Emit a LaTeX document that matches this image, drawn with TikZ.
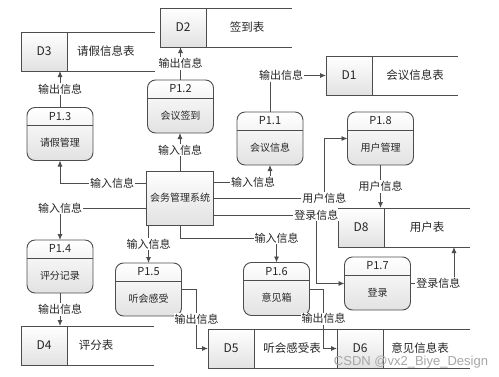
\documentclass[tikz,border=0pt]{standalone}
\usepackage{xcolor}
\usepackage{fontspec}
\setmainfont{Noto Sans CJK SC}
\newfontfamily\wmfont{Liberation Sans}
\usepackage{tikz}
\usetikzlibrary{arrows.meta,positioning,calc}
\definecolor{ink}{HTML}{262626}
\definecolor{wire}{HTML}{4D4D4D}
\definecolor{shadelo}{HTML}{E2E2E2}
\newcommand{\fs}[1]{\fontsize{#1}{#1}\selectfont}
% process: name, centre, id, text
\newcommand{\proc}[4]{%
  \node[procbox] (#1) at (#2) {};
  \draw[wire] ($(#1.north west)+(0,-18)$) -- ($(#1.north east)+(0,-18)$);
  \node[font=\fs{11}] (#1id) at ($(#1.north)+(0,-9)$) {#3};
  \node[font=\fs{10}] (#1tx) at ($(#1.south)+(0,17.5)$) {#4};}
% data store: name, west point, id, text, text offset, length
\newcommand{\store}[6]{%
  \node[storecell,anchor=west] (#1) at (#2) {#3};
  \draw[wire] (#1.north west) -- ++(#6,0);
  \draw[wire] (#1.south west) -- ++(#6,0);
  \node[font=\fs{11.5}] (#1tx) at ($(#1.east)+(#5,0)$) {#4};}

\begin{document}
\begin{tikzpicture}[x=1pt,y=1pt,
  every node/.append style={text=ink},
  wire/.style={line width=0.9pt,color=wire},
  procbox/.style={rectangle,rounded corners=8pt,draw=wire,line width=0.9pt,
    top color=white,bottom color=shadelo,outer sep=0pt,
    minimum width=66pt,minimum height=53pt},
  sysbox/.style={rectangle,draw=wire,line width=0.9pt,
    top color=white,bottom color=shadelo,outer sep=0pt,
    minimum width=66pt,minimum height=54pt,font=\fs{10}},
  storecell/.style={rectangle,draw=wire,line width=0.9pt,
    top color=white,bottom color=shadelo,outer sep=0pt,
    minimum width=46pt,minimum height=39pt,font=\fs{12}},
  arr/.style={-{Latex[length=6pt,width=5pt]},line width=0.9pt,color=wire},
  lbl/.style={fill=white,inner sep=1pt,font=\fs{11}},
]
  \useasboundingbox (0,0) rectangle (499,376);

  % data stores
  \store{d2}{160,348.5}{D2}{签到表}{41}{132}
  \store{d3}{21,324.5}{D3}{请假信息表}{39}{134}
  \store{d1}{326,300.5}{D1}{会议信息表}{43}{132}
  \store{d8}{338,148.5}{D8}{用户表}{43}{132}
  \store{d4}{21,30.5}{D4}{评分表}{29}{133}
  \store{d5}{208,27.5}{D5}{听会感受表}{38}{130}
  \store{d6}{337,27.5}{D6}{意见信息表}{37}{133}

  % processes
  \node[sysbox] (sys) at (180,178) {会务管理系统};
  \proc{p12}{180.5,269.5}{P1.2}{会议签到}
  \proc{p13}{60,242}{P1.3}{请假管理}
  \proc{p11}{270,237.5}{P1.1}{会议信息}
  \proc{p18}{380.5,237.5}{P1.8}{用户管理}
  \proc{p14}{60,109.5}{P1.4}{评分记录}
  \proc{p15}{148.5,86.5}{P1.5}{听会感受}
  \proc{p16}{276.5,87}{P1.6}{意见箱}
  \proc{p17}{377.5,92.5}{P1.7}{登录}

  % flows
  \draw[arr] (sys.north) -- node[lbl,pos=0.55]{输入信息} (sys.north |- p12.south);
  \draw[arr] (p12.north) -- node[lbl]{输出信息} (p12.north |- d2.south);
  \draw[arr] ([yshift=15pt]sys.west) -| node[lbl,pos=0.2]{输入信息} (p13.south);
  \draw[arr] (p13.north) -- node[lbl]{输出信息} (p13.north |- d3.south);
  \draw[arr] ([yshift=16pt]sys.east) -| node[lbl,pos=0.35]{输入信息} (p11.south);
  \draw[arr] (p11.north) |- node[lbl,pos=0.6]{输出信息} (d1.west);
  \draw[arr] (sys.east) -- ++(111,0) node[lbl]{用户信息} |- (p18.west);
  \draw[arr] (p18.south) -- node[lbl]{用户信息} (p18.south |- d8.north);
  \draw[arr] ([yshift=-17pt]sys.east) -- ++(103,0) node[lbl]{登录信息} |- (p17.west);
  \draw[arr] (p17.east) -| node[lbl,pos=0.32]{登录信息} ($(d8.south west)+(116,0)$);
  \draw[arr] ([yshift=-10pt]sys.west) -| node[lbl]{输入信息} (p14.north);
  \draw[arr] (p14.south) -- node[lbl]{输出信息} (p14.south |- d4.north);
  \draw[arr] (p15.north |- sys.south) -- node[lbl]{输入信息} (p15.north);
  \draw[arr] (sys.south) -- ++(0,-13) -| node[lbl]{输入信息} (p16.north);
  \draw[arr] (p15.east) -- ++(15,0) |- node[lbl,pos=0.25]{输出信息} (d5.west);
  \draw[arr] (p16.east) -- ++(14,0) |- node[lbl,pos=0.25]{输出信息} (d6.west);

  \node[font=\wmfont\fs{13},text=black!35] (wm) at (411,14) {CSDN @vx2\_Biye\_Design};
\end{tikzpicture}
\end{document}
